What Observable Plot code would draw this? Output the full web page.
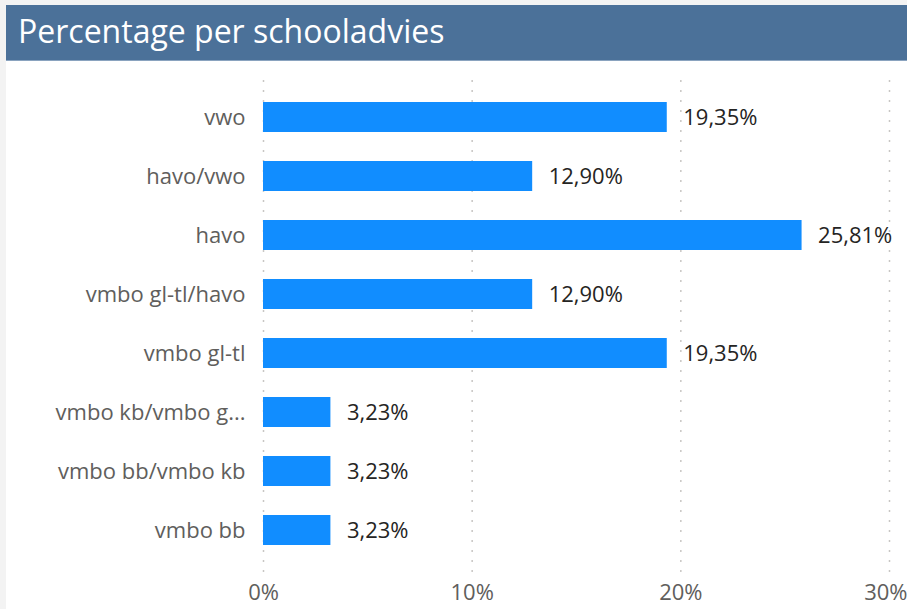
<!DOCTYPE html>
<html>
<head>
<meta charset="utf-8">
<script src="https://cdn.jsdelivr.net/npm/d3@7"></script>
<script src="https://cdn.jsdelivr.net/npm/@observablehq/plot@0.6"></script>
<style>
  html, body { margin: 0; padding: 0; background: #f3f3f3; }
  #wrap { position: relative; width: 907px; height: 609px; background: #f3f3f3; overflow: hidden; }
  #title { position: absolute; left: 6px; top: 5px; width: 901px; height: 56px; background: #4b7199;
    color: #ffffff; font-family: "Open Sans", sans-serif; font-size: 32px; line-height: 52px;
    padding-left: 12px; box-sizing: border-box; border-bottom: 1px solid #8aa3bf; }
  #chart { position: absolute; left: 6px; top: 61px; width: 901px; height: 548px; background: #fff; }
</style>
</head>
<body>
<div id="wrap">
  <div id="title">Percentage per schooladvies</div>
  <div id="chart"></div>
</div>
<script>
const categories = ["vwo", "havo/vwo", "havo", "vmbo gl-tl/havo", "vmbo gl-tl", "vmbo kb/vmbo g...", "vmbo bb/vmbo kb", "vmbo bb"];
const values = [19.35, 12.90, 25.81, 12.90, 19.35, 3.23, 3.23, 3.23];
const xTicks = [0, 10, 20, 30];

const data = categories.map((c, i) => ({cat: c, value: values[i]}));
const fmt = v => v.toFixed(2).replace(".", ",") + "%";
const pct = d => d + "%";

const chart = Plot.plot({
  width: 901,
  height: 548,
  marginLeft: 257,
  marginRight: 18,
  marginTop: 9,
  marginBottom: 32,
  style: {fontFamily: "'Open Sans', sans-serif", fontSize: "22px", background: "#ffffff"},
  x: {domain: [0, 30], ticks: xTicks, tickFormat: pct, tickSize: 0, tickPadding: 8, label: null},
  y: {domain: categories, padding: 0.5, tickSize: 0, tickPadding: 18, label: null},
  marks: [
    Plot.ruleX(xTicks, {x: d => d, stroke: "#c8c6c4", strokeWidth: 1.5, strokeDasharray: "2,8", insetTop: 10}),
    Plot.barX(data, {x: "value", y: "cat", fill: "#118DFF"}),
    Plot.text(data, {x: "value", y: "cat", text: d => fmt(d.value), textAnchor: "start", dx: 16, fill: "#252423", fontSize: 22}),
    Plot.axisY({tickSize: 0, tickPadding: 18, fill: "#605e5c", fontSize: 22}),
    Plot.axisX({ticks: xTicks.slice(0, 3), tickFormat: pct, tickSize: 0, tickPadding: 7, fill: "#605e5c", fontSize: 22}),
    Plot.axisX({ticks: xTicks.slice(3), tickFormat: pct, tickSize: 0, tickPadding: 7, fill: "#605e5c", fontSize: 22, textAnchor: "end", dx: 18})
  ]
});
document.getElementById("chart").appendChild(chart);
</script>
</body>
</html>
